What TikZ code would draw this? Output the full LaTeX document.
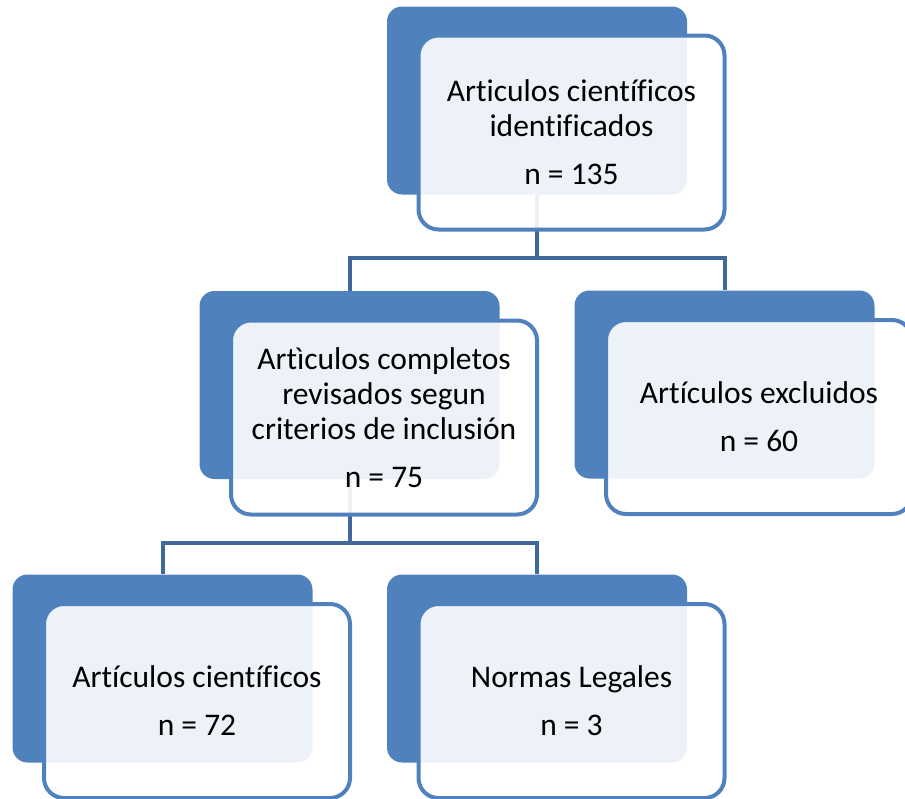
\documentclass[tikz,border=0pt]{standalone}
\usepackage{fontspec}
\setmainfont{Carlito}[Ligatures={NoCommon,NoRequired,NoContextual}]
\definecolor{accent}{HTML}{4F81BD}
\definecolor{connc}{HTML}{41689A}
\begin{document}
\begin{tikzpicture}[x=1pt,y=-1pt,
  backbox/.style={fill=accent, draw=none, rounded corners=15pt, minimum width=300pt, minimum height=188pt, inner sep=0pt},
  frontbox/.style={draw=accent, line width=4pt, fill=white, fill opacity=0.9, text opacity=1, rounded corners=20pt, minimum width=306pt, minimum height=194pt, inner sep=0pt, align=center, font=\fontsize{31.5}{35}\selectfont},
  conn/.style={draw=connc, line width=4pt}]
\useasboundingbox (0,0) rectangle (905,798);
% back shapes
\node[backbox] (b1) at (537,100.5) {};
\node[backbox] (b2) at (349.5,385) {};
\node[backbox] (b3) at (724.5,384.5) {};
\node[backbox] (b4) at (162.5,668.5) {};
\node[backbox] (b5) at (537,668.5) {};
% connectors
\draw[conn] (b1.south) -- ++(0,63) coordinate (j1) -| (b2.north);
\draw[conn] (j1) -| (b3.north);
\draw[conn] (b2.south) -- ++(0,64) coordinate (j2) -| (b4.north);
\draw[conn] (j2) -| (b5.north);
% front shapes
\node[frontbox] (f1) at (571.5,132.5) {Articulos científicos\\identificados\\[13pt]n = 135};
\node[frontbox] (f2) at (384,417.5) {Artìculos completos\\revisados segun\\criterios de inclusión\\[13pt]n = 75};
\node[frontbox] (f3) at (759,417) {Artículos excluidos\\[13pt]n = 60};
\node[frontbox] (f4) at (197,701) {Artículos científicos\\[13pt]n = 72};
\node[frontbox] (f5) at (571.5,701) {Normas Legales\\[13pt]n = 3};
\end{tikzpicture}
\end{document}
